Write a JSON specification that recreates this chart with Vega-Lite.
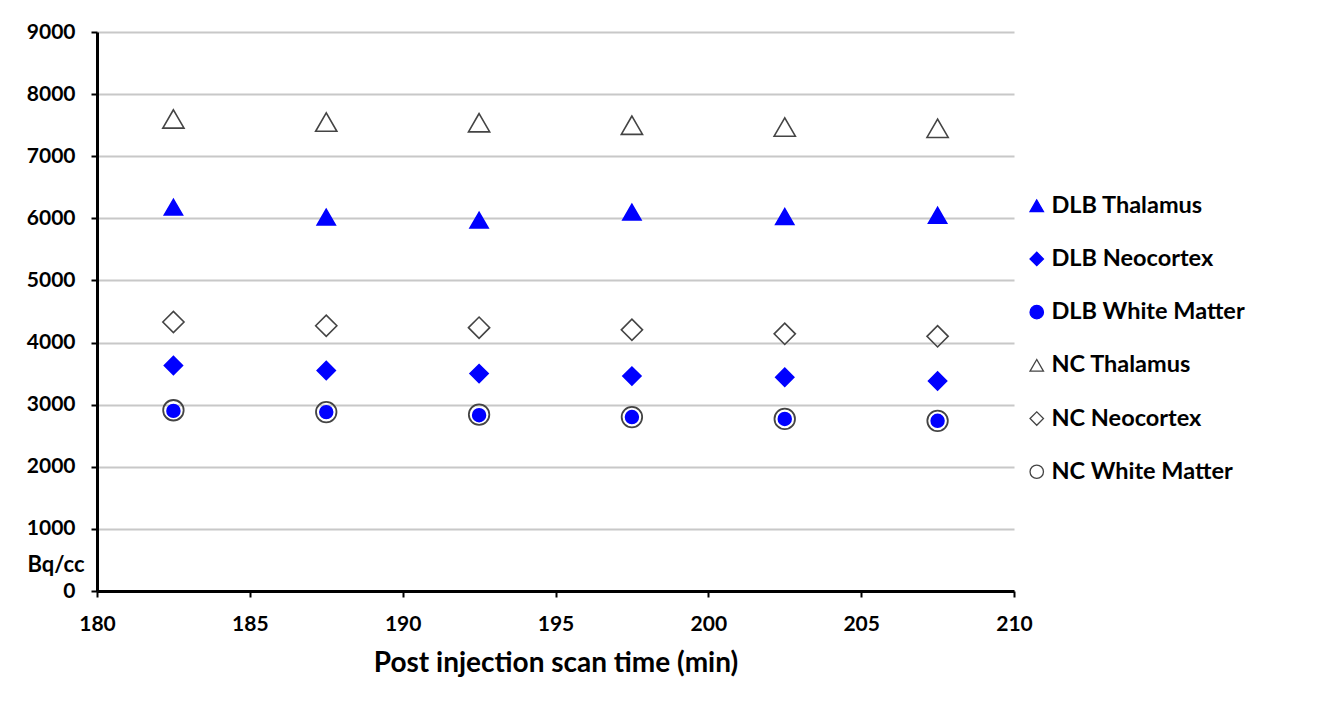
{
  "$schema": "https://vega.github.io/schema/vega-lite/v6.json",
  "autosize": {"type": "none"},
  "padding": {"left": 97, "top": 32, "right": 304, "bottom": 113},
  "width": 917,
  "height": 559,
  "background": "white",
  "config": {
    "font": "Lato",
    "view": {"stroke": null},
    "legend": {
      "orient": "none", "legendX": 928, "legendY": 162,
      "symbolSize": 180, "symbolStrokeWidth": 1.3,
      "labelFontSize": 23.5, "labelFontWeight": "bold", "labelColor": "black",
      "labelOffset": 3, "rowPadding": 28.2, "labelLimit": 300
    }
  },
  "data": {
    "values": [
      {"time": 182.5, "series": "DLB Thalamus", "value": 6180},
      {"time": 187.5, "series": "DLB Thalamus", "value": 6020},
      {"time": 192.5, "series": "DLB Thalamus", "value": 5970},
      {"time": 197.5, "series": "DLB Thalamus", "value": 6100},
      {"time": 202.5, "series": "DLB Thalamus", "value": 6030},
      {"time": 207.5, "series": "DLB Thalamus", "value": 6050},
      {"time": 182.5, "series": "DLB Neocortex", "value": 3630},
      {"time": 187.5, "series": "DLB Neocortex", "value": 3550},
      {"time": 192.5, "series": "DLB Neocortex", "value": 3500},
      {"time": 197.5, "series": "DLB Neocortex", "value": 3460},
      {"time": 202.5, "series": "DLB Neocortex", "value": 3440},
      {"time": 207.5, "series": "DLB Neocortex", "value": 3380},
      {"time": 182.5, "series": "DLB White Matter", "value": 2900},
      {"time": 187.5, "series": "DLB White Matter", "value": 2880},
      {"time": 192.5, "series": "DLB White Matter", "value": 2830},
      {"time": 197.5, "series": "DLB White Matter", "value": 2800},
      {"time": 202.5, "series": "DLB White Matter", "value": 2770},
      {"time": 207.5, "series": "DLB White Matter", "value": 2740},
      {"time": 182.5, "series": "NC Thalamus", "value": 7600},
      {"time": 187.5, "series": "NC Thalamus", "value": 7550},
      {"time": 192.5, "series": "NC Thalamus", "value": 7540},
      {"time": 197.5, "series": "NC Thalamus", "value": 7500},
      {"time": 202.5, "series": "NC Thalamus", "value": 7470},
      {"time": 207.5, "series": "NC Thalamus", "value": 7450},
      {"time": 182.5, "series": "NC Neocortex", "value": 4330},
      {"time": 187.5, "series": "NC Neocortex", "value": 4270},
      {"time": 192.5, "series": "NC Neocortex", "value": 4240},
      {"time": 197.5, "series": "NC Neocortex", "value": 4205},
      {"time": 202.5, "series": "NC Neocortex", "value": 4140},
      {"time": 207.5, "series": "NC Neocortex", "value": 4100},
      {"time": 182.5, "series": "NC White Matter", "value": 2910},
      {"time": 187.5, "series": "NC White Matter", "value": 2880},
      {"time": 192.5, "series": "NC White Matter", "value": 2840},
      {"time": 197.5, "series": "NC White Matter", "value": 2800},
      {"time": 202.5, "series": "NC White Matter", "value": 2770},
      {"time": 207.5, "series": "NC White Matter", "value": 2740}
    ]
  },
  "encoding": {
    "x": {
      "field": "time", "type": "quantitative",
      "scale": {"domain": [180, 210], "nice": false, "zero": false},
      "axis": {
        "values": [180, 185, 190, 195, 200, 205, 210],
        "grid": false, "labelFlush": false,
        "domainColor": "black", "domainWidth": 3,
        "tickColor": "black", "tickWidth": 2, "tickSize": 6,
        "labelFontSize": 21, "labelFontWeight": "bold", "labelColor": "black",
        "labelPadding": 16,
        "title": "Post injection scan time (min)",
        "titleFontSize": 28, "titleFontWeight": "bold", "titleColor": "black",
        "titlePadding": 15
      }
    },
    "y": {
      "field": "value", "type": "quantitative",
      "scale": {"domain": [0, 9000], "nice": false},
      "axis": {
        "values": [0, 1000, 2000, 3000, 4000, 5000, 6000, 7000, 8000, 9000],
        "format": "d", "labelFlush": false,
        "grid": true, "gridColor": "#c8c8c8", "gridWidth": 2,
        "domainColor": "black", "domainWidth": 3,
        "tickColor": "black", "tickWidth": 2, "tickSize": 6,
        "labelFontSize": 21, "labelFontWeight": "bold", "labelColor": "black",
        "labelPadding": 16,
        "title": "Bq/cc",
        "titleAngle": 0, "titleAlign": "right", "titleBaseline": "middle",
        "titleX": -13, "titleY": 532,
        "titleFontSize": 22, "titleFontWeight": "bold", "titleColor": "black"
      }
    },
    "shape": {
      "field": "series", "type": "nominal",
      "scale": {
        "domain": ["DLB Thalamus", "DLB Neocortex", "DLB White Matter", "NC Thalamus", "NC Neocortex", "NC White Matter"],
        "range": ["triangle-up", "diamond", "circle", "triangle-up", "diamond", "circle"]
      },
      "legend": {"title": null}
    },
    "fill": {
      "field": "series", "type": "nominal",
      "scale": {
        "domain": ["DLB Thalamus", "DLB Neocortex", "DLB White Matter", "NC Thalamus", "NC Neocortex", "NC White Matter"],
        "range": ["#0000FF", "#0000FF", "#0000FF", "transparent", "transparent", "transparent"]
      },
      "legend": {"title": null}
    },
    "stroke": {
      "field": "series", "type": "nominal",
      "scale": {
        "domain": ["DLB Thalamus", "DLB Neocortex", "DLB White Matter", "NC Thalamus", "NC Neocortex", "NC White Matter"],
        "range": ["#0000FF", "#0000FF", "#0000FF", "#444444", "#444444", "#444444"]
      },
      "legend": {"title": null}
    }
  },
  "layer": [
    {
      "transform": [{"filter": {"field": "series", "oneOf": ["DLB Thalamus", "DLB Neocortex"]}}],
      "mark": {"type": "point", "size": 330, "strokeWidth": 1.6, "opacity": 1}
    },
    {
      "transform": [{"filter": {"field": "series", "oneOf": ["DLB White Matter"]}}],
      "mark": {"type": "point", "size": 165, "strokeWidth": 1.6, "opacity": 1}
    },
    {
      "transform": [{"filter": {"field": "series", "oneOf": ["NC Thalamus", "NC Neocortex"]}}],
      "mark": {"type": "point", "size": 450, "strokeWidth": 1.6, "opacity": 1}
    },
    {
      "transform": [{"filter": {"field": "series", "oneOf": ["NC White Matter"]}}],
      "mark": {"type": "point", "size": 420, "strokeWidth": 1.8, "opacity": 1}
    }
  ]
}
